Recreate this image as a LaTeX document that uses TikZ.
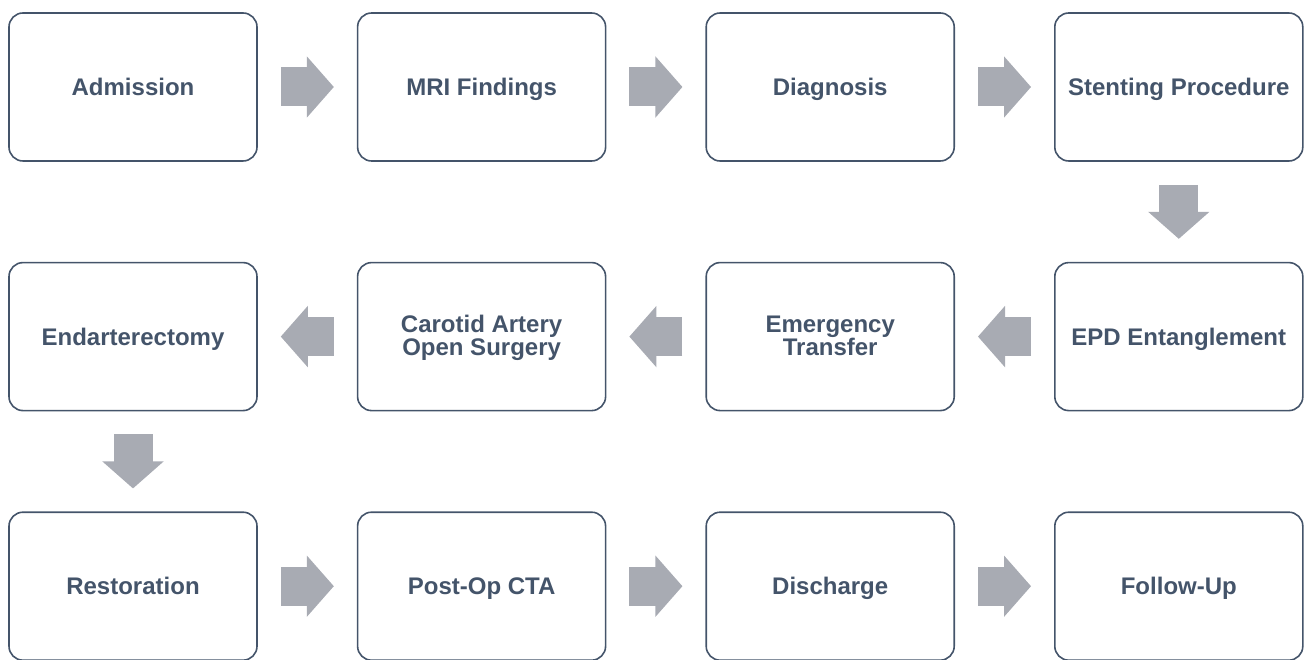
\documentclass[tikz,border=0pt]{standalone}
\usepackage{fontspec}
\setmainfont{Liberation Sans}
\usetikzlibrary{arrows.meta, positioning}
\definecolor{slateblue}{RGB}{68,84,106}
\definecolor{arrowgray}{RGB}{168,171,179}

\begin{document}
\begin{tikzpicture}[
  x=1pt, y=1pt,
  node distance = 100pt and 99pt,
  box/.style = {
    draw=slateblue, line width=1.6pt, rounded corners=14pt,
    minimum width=248pt, minimum height=148pt,
    text height=22pt, text depth=5pt,
    align=center, text=slateblue,
    font=\bfseries\fontsize{24}{23}\selectfont
  },
  twoline/.style = { box, text height=42pt, text depth=5pt },
  flow/.style = {
    draw=arrowgray, line width=39pt,
    -{Triangle[length=27pt, width=61pt, line width=2pt]},
    shorten <=23pt, shorten >=23pt
  }
]
\useasboundingbox (0,0) rectangle (1306,659);

% first row
\node[box] (adm) at (133,572) {Admission};
\node[box, right=of adm]  (mri)   {MRI Findings};
\node[box, right=of mri]  (diag)  {Diagnosis};
\node[box, right=of diag] (stent) {Stenting Procedure};

% second row, right to left
\node[box, below=of stent]       (epd)      {EPD Entanglement};
\node[twoline, left=of epd]      (transfer) {Emergency\\Transfer};
\node[twoline, left=of transfer] (carotid)  {Carotid Artery\\Open Surgery};
\node[box, left=of carotid]      (endart)   {Endarterectomy};

% third row
\node[box, below=of endart]   (restor) {Restoration};
\node[box, right=of restor]   (postop) {Post-Op CTA};
\node[box, right=of postop]   (disch)  {Discharge};
\node[box, right=of disch]    (follow) {Follow-Up};

\draw[flow] (adm) -- (mri);
\draw[flow] (mri) -- (diag);
\draw[flow] (diag) -- (stent);
\draw[flow] (stent) -- (epd);
\draw[flow] (epd) -- (transfer);
\draw[flow] (transfer) -- (carotid);
\draw[flow] (carotid) -- (endart);
\draw[flow] (endart) -- (restor);
\draw[flow] (restor) -- (postop);
\draw[flow] (postop) -- (disch);
\draw[flow] (disch) -- (follow);

\end{tikzpicture}
\end{document}
